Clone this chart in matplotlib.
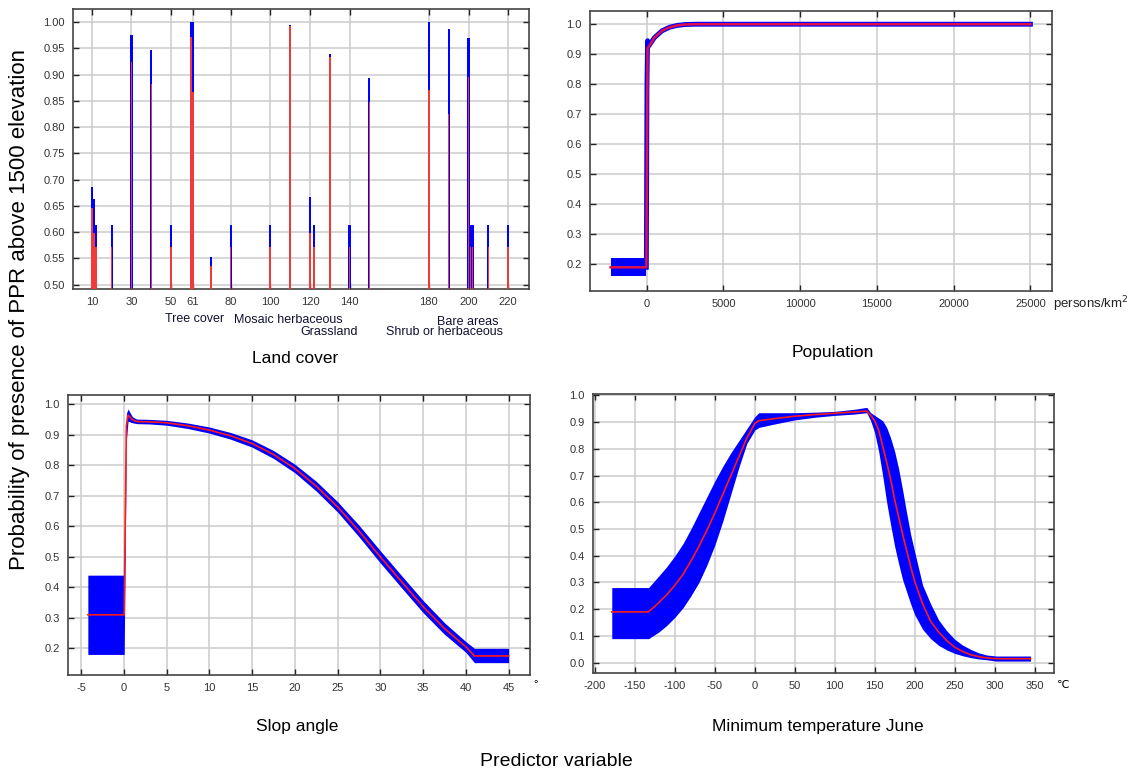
import numpy as np
import matplotlib
matplotlib.use("Agg")
import matplotlib.pyplot as plt

# ---------------- data ----------------
# Land cover (categorical codes)
lc_codes = [10, 11, 12, 20, 30, 40, 50, 60, 61, 70, 80, 100, 110, 120, 122,
            130, 140, 150, 180, 190, 200, 201, 202, 210, 220]
lc_upper = [0.685, 0.664, 0.614, 0.614, 0.975, 0.947, 0.614, 1.0, 1.0, 0.552,
            0.614, 0.614, 0.995, 0.667, 0.614, 0.940, 0.614, 0.893, 1.0, 0.987,
            0.970, 0.614, 0.614, 0.614, 0.614]
lc_mean = [0.646, 0.598, 0.572, 0.572, 0.924, 0.882, 0.572, 0.971, 0.866, 0.535,
           0.572, 0.572, 0.992, 0.598, 0.572, 0.933, 0.572, 0.847, 0.870, 0.824,
           0.895, 0.572, 0.572, 0.572, 0.572]
lc_ticks = [10, 30, 50, 61, 80, 100, 120, 140, 180, 200, 220]
lc_groups = ["Tree cover", "Mosaic herbaceous", "Grassland", "Bare areas", "Shrub or herbaceous"]

# Population
pop_box_x = [-2350, -20]
pop_box_low = [0.16, 0.16]
pop_box_high = [0.222, 0.222]
pop_x = [-2350, -20, 60, 200, 500, 1000, 1500, 2000, 2500, 3200, 25000]
pop_mean = [0.19, 0.19, 0.92, 0.93, 0.955, 0.978, 0.99, 0.996, 0.999, 1.0, 1.0]
pop_band_x = [-20, 20, 60, 100, 200, 500, 1000, 1500, 2000, 2500, 3200, 25000]
pop_band_y = [0.19, 0.80, 0.945, 0.925, 0.932, 0.955, 0.978, 0.99, 0.996, 0.999, 1.0, 1.0]

# Slope angle
slope_x = [-4.2, 0.05, 0.3, 0.5, 1.0, 1.5, 3, 5, 7.5, 10, 12.5, 15, 17.5, 20,
           22.5, 25, 27.5, 30, 32.5, 35, 37.5, 40, 41, 45]
slope_mean = [0.31, 0.31, 0.93, 0.965, 0.95, 0.944, 0.943, 0.940, 0.930, 0.916,
              0.897, 0.872, 0.836, 0.790, 0.732, 0.664, 0.585, 0.50, 0.418,
              0.337, 0.265, 0.205, 0.175, 0.175]
slope_high = [0.44, 0.44, 0.97, 0.985, 0.96, 0.952, 0.951, 0.948, 0.939, 0.926,
              0.908, 0.884, 0.849, 0.804, 0.748, 0.681, 0.604, 0.52, 0.438,
              0.357, 0.284, 0.222, 0.20, 0.20]
slope_low = [0.18, 0.18, 0.88, 0.945, 0.94, 0.937, 0.936, 0.932, 0.921, 0.906,
             0.886, 0.860, 0.823, 0.776, 0.716, 0.647, 0.566, 0.48, 0.398,
             0.317, 0.246, 0.187, 0.153, 0.153]

# Minimum temperature June
temp_x = [-179, -133, -120, -110, -100, -90, -80, -70, -60, -50, -40, -30, -20,
          -10, 0, 5, 25, 50, 75, 100, 125, 140, 145, 150, 155, 160, 165, 170,
          175, 180, 185, 190, 195, 200, 210, 220, 230, 240, 250, 260, 270, 280,
          290, 302, 345]
temp_mean = [0.19, 0.19, 0.225, 0.255, 0.29, 0.33, 0.38, 0.435, 0.495, 0.56, 0.63,
             0.70, 0.77, 0.84, 0.895, 0.905, 0.913, 0.922, 0.928, 0.933, 0.938,
             0.941, 0.925, 0.905, 0.87, 0.81, 0.75, 0.685, 0.61, 0.545, 0.48,
             0.42, 0.36, 0.305, 0.22, 0.155, 0.115, 0.083, 0.058, 0.042, 0.03,
             0.023, 0.018, 0.015, 0.015]
temp_high = [0.281, 0.281, 0.325, 0.36, 0.40, 0.445, 0.50, 0.56, 0.62, 0.68,
             0.735, 0.785, 0.83, 0.875, 0.92, 0.935, 0.935, 0.935, 0.937, 0.94,
             0.948, 0.955, 0.935, 0.925, 0.915, 0.905, 0.88, 0.84, 0.79, 0.725,
             0.645, 0.56, 0.48, 0.415, 0.29, 0.22, 0.16, 0.12, 0.088, 0.066,
             0.05, 0.037, 0.029, 0.025, 0.025]
temp_low = [0.09, 0.09, 0.115, 0.14, 0.17, 0.205, 0.25, 0.30, 0.365, 0.44,
            0.53, 0.63, 0.73, 0.82, 0.87, 0.88, 0.893, 0.908, 0.918, 0.925,
            0.93, 0.935, 0.905, 0.86, 0.79, 0.70, 0.60, 0.515, 0.435, 0.37,
            0.31, 0.265, 0.22, 0.18, 0.125, 0.09, 0.065, 0.048, 0.035, 0.026,
            0.019, 0.014, 0.011, 0.006, 0.006]

# ---------------- style ----------------
plt.rcParams['font.family'] = ['Liberation Sans', 'DejaVu Sans']
plt.rcParams['axes.unicode_minus'] = False
BLUE = '#0000ff'
RED = '#ff1a1a'
GRID = '#cccccc'

fig = plt.figure(figsize=(11.36, 7.74), dpi=100)
W, H = 1136, 774


def add_ax(l, t, r, b):
    return fig.add_axes([l / W, 1 - b / H, (r - l) / W, (b - t) / H])


def style(ax):
    ax.grid(True, color=GRID, lw=1.1)
    ax.set_axisbelow(True)
    ax.tick_params(direction='in', length=4, width=1, top=True, right=True,
                   labelsize=8, color='#222222', labelcolor='#333333', pad=6)
    for s in ax.spines.values():
        s.set_color('#444444')
        s.set_linewidth(1.2)


# Top-left: land cover
ax1 = add_ax(73, 9, 529, 289)
base = 0.4918
ax1.bar(lc_codes, np.array(lc_upper) - base, bottom=base, width=1.1, color=BLUE, zorder=2)
ax1.bar(lc_codes, np.array(lc_mean) - base, bottom=base, width=0.8, color='#f03a3a', zorder=3)
ax1.set_xlim(0.5, 230.5)
ax1.set_ylim(base, 1.0247)
ax1.set_xticks(lc_ticks)
ax1.set_yticks(np.arange(0.5, 1.001, 0.05))
ax1.set_yticklabels([f"{v:.2f}" for v in np.arange(0.5, 1.001, 0.05)])
style(ax1)
grp_pos = [(195, 319), (288, 320), (329, 332), (468, 322), (444, 332)]
for txt, (px, py) in zip(lc_groups, grp_pos):
    fig.text(px / W, 1 - py / H, txt, ha='center', va='center', fontsize=9, color='#111133')
fig.text(295 / W, 1 - 358 / H, "Land cover", ha='center', va='center', fontsize=12.5)

# Top-right: population
ax2 = add_ax(590, 10.7, 1052, 290.7)
ax2.fill_between(pop_box_x, pop_box_low, pop_box_high, color=BLUE, lw=0, zorder=2)
ax2.plot(pop_band_x, pop_band_y, color=BLUE, lw=3.5, zorder=2, solid_joinstyle='round')
ax2.plot(pop_x, pop_mean, color='#e0104a', lw=1.8, zorder=3)
ax2.set_xlim(-3691, 26406)
ax2.set_ylim(0.112, 1.045)
ax2.set_xticks(np.arange(0, 25001, 5000))
ax2.set_yticks(np.arange(0.2, 1.001, 0.1))
ax2.set_yticklabels([f"{v:.1f}" for v in np.arange(0.2, 1.001, 0.1)])
style(ax2)
fig.text(1053 / W, 1 - 304 / H, "persons/km$^2$", ha='left', va='center', fontsize=9.5, color='#222222')
fig.text(833 / W, 1 - 352 / H, "Population", ha='center', va='center', fontsize=12.5)

# Bottom-left: slope angle
ax3 = add_ax(68, 395, 530, 675)
ax3.fill_between(slope_x, slope_low, slope_high, color=BLUE, lw=0, zorder=2)
ax3.plot(slope_x, slope_mean, color=RED, lw=1.2, zorder=3)
ax3.set_xlim(-6.52, 47.5)
ax3.set_ylim(0.1125, 1.031)
ax3.set_xticks(np.arange(-5, 46, 5))
ax3.set_yticks(np.arange(0.2, 1.001, 0.1))
ax3.set_yticklabels([f"{v:.1f}" for v in np.arange(0.2, 1.001, 0.1)])
style(ax3)
fig.text(533 / W, 1 - 684 / H, "°", ha='left', va='center', fontsize=8)
fig.text(297 / W, 1 - 727 / H, "Slop angle", ha='center', va='center', fontsize=12.5)

# Bottom-right: minimum temperature June
ax4 = add_ax(593, 394, 1054, 673)
ax4.fill_between(temp_x, temp_low, temp_high, color=BLUE, lw=0, zorder=2)
ax4.plot(temp_x, temp_mean, color=RED, lw=1.2, zorder=3)
ax4.set_xlim(-202.5, 374.4)
ax4.set_ylim(-0.0385, 1.005)
ax4.set_xticks(np.arange(-200, 351, 50))
ax4.set_yticks(np.arange(0.0, 1.001, 0.1))
ax4.set_yticklabels([f"{v:.1f}" for v in np.arange(0.0, 1.001, 0.1)])
style(ax4)
fig.text(1063 / W, 1 - 685 / H, "℃", ha='center', va='center', fontsize=8,
         family=['DejaVu Sans'])
fig.text(818 / W, 1 - 727 / H, "Minimum temperature June", ha='center', va='center', fontsize=12.5)

# Shared labels
fig.text(20 / W, 1 - 310 / H, "Probability of presence of PPR above 1500 elevation",
         rotation=90, ha='center', va='center', fontsize=16)
fig.text(556 / W, 1 - 762 / H, "Predictor variable", ha='center', va='center', fontsize=14)

fig.savefig("out.png", dpi=100)
